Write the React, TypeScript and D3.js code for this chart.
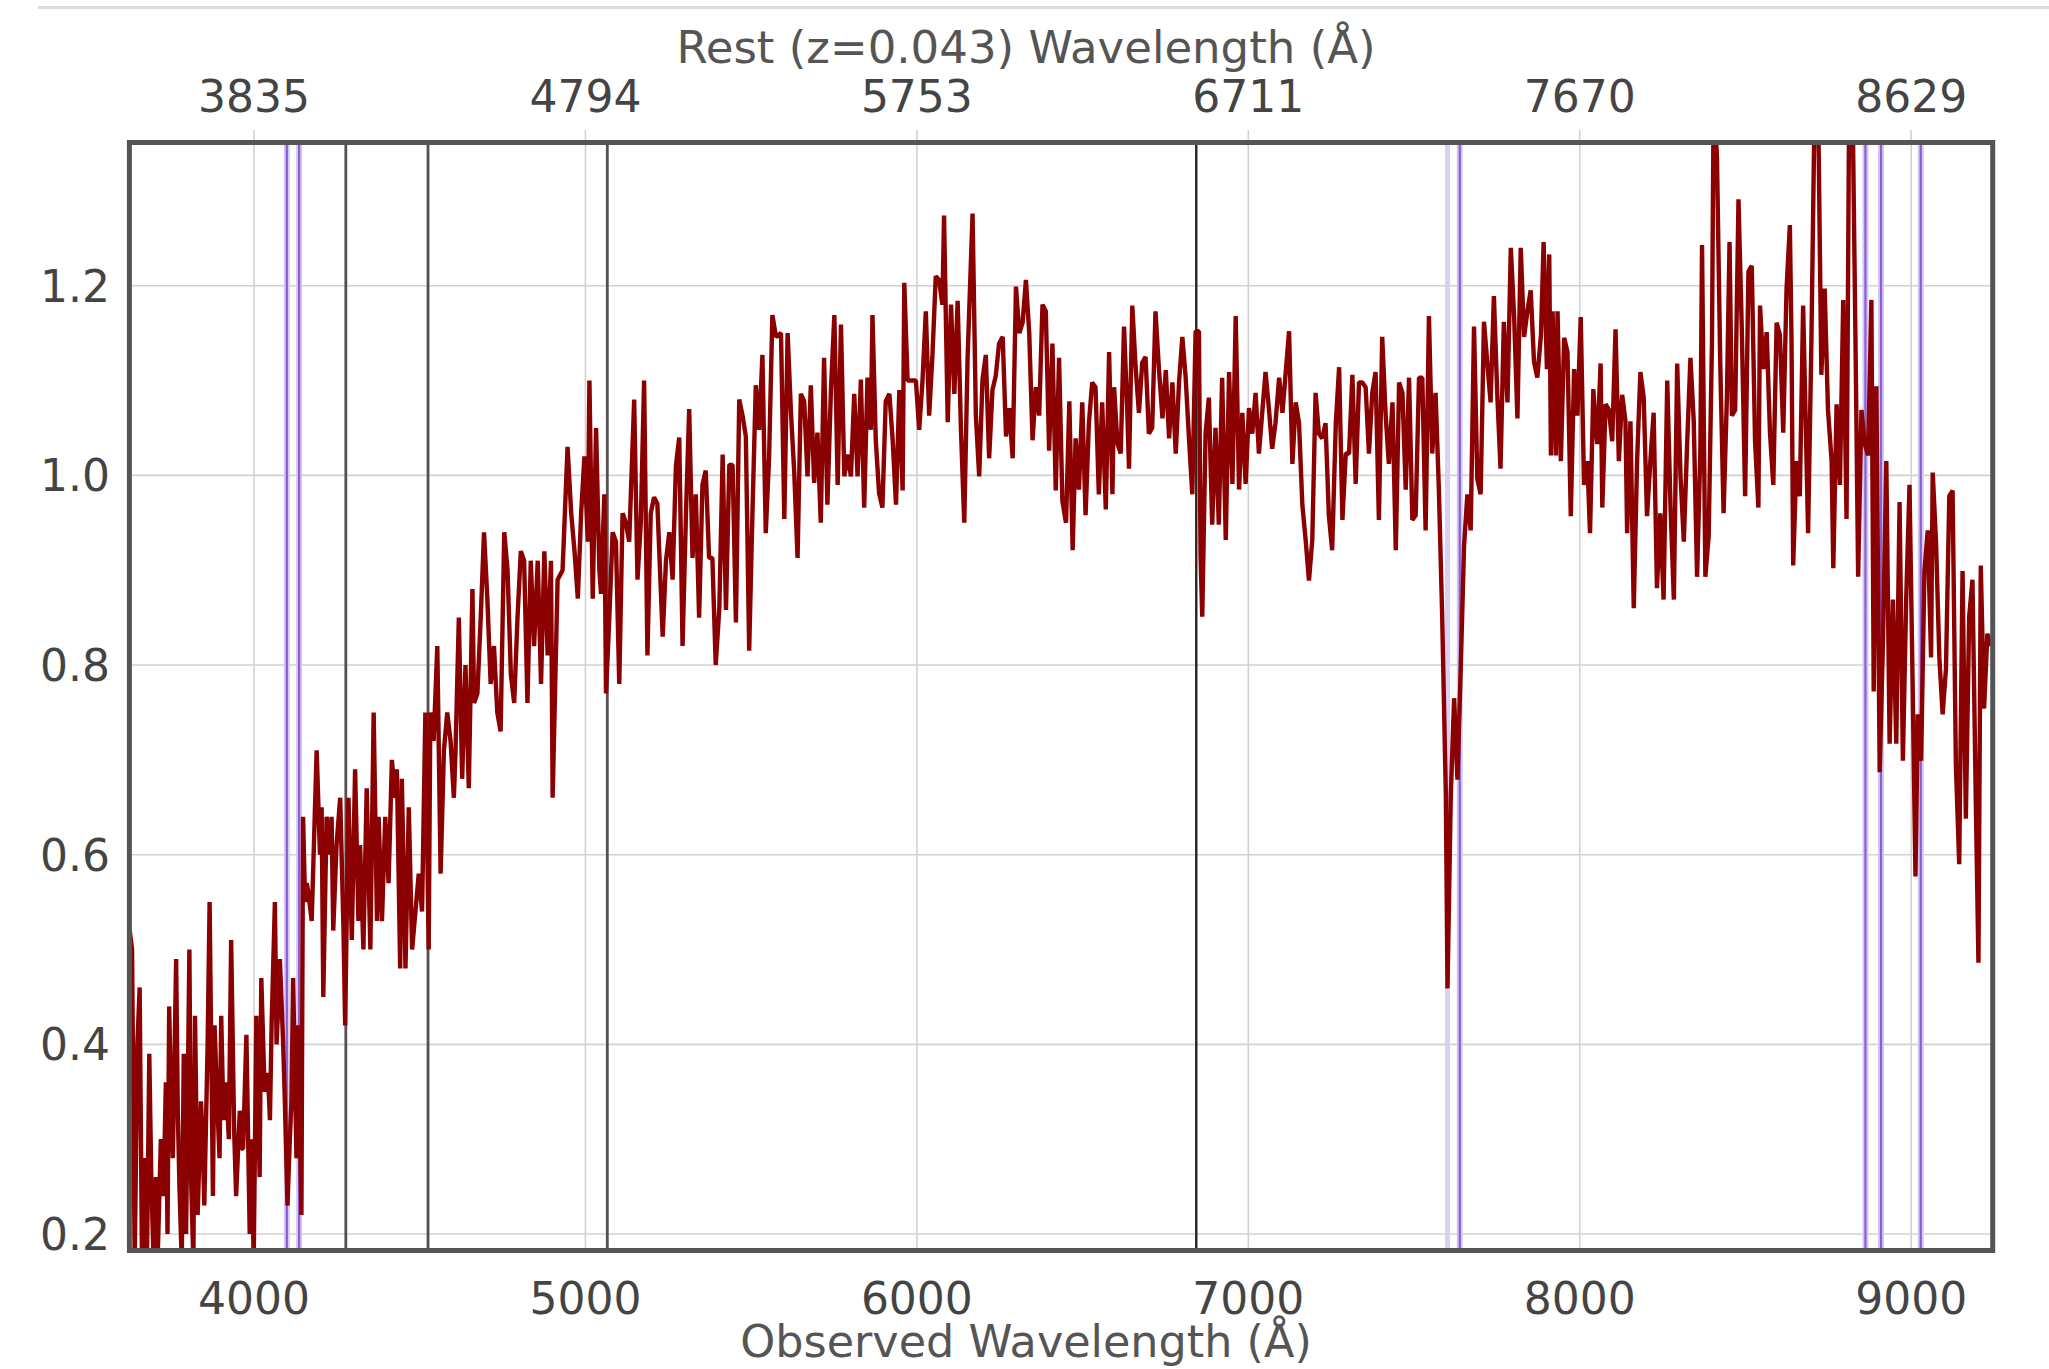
import React from "react";
import * as d3 from "d3";

const W = 2049;
const H = 1369;

// Observed-frame spectrum samples: [wavelength (Å), normalized flux]
const fluxUV: [number, number][] = [
  [3625, 0.52], [3632, 0.5], [3640, 0.17], [3648, 0.4], [3655, 0.46], [3662, 0.17], [3669, 0.28],
  [3677, 0.17], [3684, 0.39], [3690, 0.26], [3697, 0.17], [3704, 0.26], [3709, 0.17], [3719, 0.3],
  [3727, 0.24], [3734, 0.36], [3739, 0.2], [3744, 0.44], [3750, 0.33], [3755, 0.28], [3765, 0.49],
  [3770, 0.33], [3775, 0.25], [3782, 0.17], [3788, 0.39], [3795, 0.2], [3805, 0.5], [3810, 0.26],
  [3817, 0.17], [3822, 0.43], [3830, 0.22], [3840, 0.34], [3845, 0.3], [3850, 0.23], [3860, 0.4],
  [3866, 0.55], [3876, 0.24], [3881, 0.42], [3890, 0.33], [3896, 0.28], [3901, 0.43], [3908, 0.32],
  [3916, 0.36], [3924, 0.3], [3931, 0.51], [3940, 0.31], [3946, 0.24], [3957, 0.33], [3962, 0.29],
  [3967, 0.29], [3977, 0.41], [3987, 0.2], [3993, 0.3], [3999, 0.17], [4007, 0.43], [4017, 0.26],
  [4022, 0.47], [4032, 0.35], [4042, 0.37], [4048, 0.32], [4053, 0.42], [4063, 0.55], [4068, 0.4],
  [4073, 0.44], [4078, 0.49], [4088, 0.4], [4093, 0.34], [4101, 0.23], [4108, 0.3], [4113, 0.34],
  [4118, 0.47], [4128, 0.28], [4133, 0.42], [4143, 0.22],
];

const fluxBalmer: [number, number][] = [
  [4148, 0.64], [4154, 0.55], [4159, 0.57], [4164, 0.56], [4174, 0.53], [4189, 0.71], [4199, 0.6],
  [4204, 0.65], [4209, 0.45], [4219, 0.64], [4229, 0.6], [4234, 0.64], [4239, 0.52], [4249, 0.61],
  [4260, 0.66], [4270, 0.52], [4275, 0.42], [4285, 0.66], [4295, 0.51], [4305, 0.69], [4315, 0.53],
  [4320, 0.61], [4330, 0.5], [4340, 0.67], [4351, 0.5], [4361, 0.75], [4371, 0.53], [4376, 0.64],
  [4386, 0.53], [4396, 0.64], [4406, 0.57], [4416, 0.7], [4426, 0.66], [4431, 0.69], [4441, 0.48],
  [4446, 0.68], [4457, 0.48], [4467, 0.65], [4477, 0.5], [4487, 0.54], [4497, 0.58], [4507, 0.54],
  [4517, 0.75], [4527, 0.5], [4532, 0.75], [4542, 0.72], [4553, 0.82], [4563, 0.58], [4573, 0.71],
  [4583, 0.75], [4593, 0.72], [4603, 0.66], [4608, 0.71], [4618, 0.85], [4628, 0.68], [4638, 0.8],
  [4648, 0.67], [4659, 0.88], [4664, 0.76], [4674, 0.77], [4684, 0.85], [4694, 0.94], [4704, 0.87],
  [4714, 0.78], [4724, 0.82], [4734, 0.75], [4744, 0.73], [4755, 0.94], [4765, 0.9], [4775, 0.79],
  [4785, 0.76], [4795, 0.85], [4805, 0.92], [4815, 0.91], [4825, 0.76], [4835, 0.91], [4845, 0.82],
  [4856, 0.91], [4866, 0.78], [4876, 0.92], [4886, 0.81], [4896, 0.91], [4901, 0.66], [4916, 0.89],
  [4931, 0.9], [4946, 1.03], [4957, 0.96], [4967, 0.92], [4977, 0.87], [4987, 0.96], [4997, 1.02],
  [5007, 0.93], [5012, 1.1], [5022, 0.87], [5032, 1.05], [5042, 0.9],
];

const fluxGreen: [number, number][] = [
  [5047, 0.875], [5057, 0.98], [5062, 0.77], [5072, 0.85], [5082, 0.94], [5092, 0.93], [5102, 0.78],
  [5112, 0.96], [5122, 0.95], [5132, 0.93], [5147, 1.08], [5157, 0.89], [5167, 0.95], [5177, 1.1],
  [5187, 0.81], [5197, 0.96], [5207, 0.977], [5217, 0.97], [5233, 0.83], [5243, 0.91], [5253, 0.94],
  [5263, 0.89], [5273, 1.01], [5283, 1.04], [5293, 0.82], [5303, 0.956], [5313, 1.07], [5323, 0.913],
  [5333, 0.98], [5343, 0.85], [5353, 0.99], [5363, 1.005], [5373, 0.913], [5383, 0.913], [5393, 0.8],
  [5404, 0.86], [5414, 1.022], [5424, 0.858], [5434, 1.011], [5444, 1.011], [5454, 0.845], [5464, 1.08],
  [5474, 1.063], [5484, 1.041], [5494, 0.815], [5504, 0.962], [5514, 1.095], [5524, 1.048], [5534, 1.127],
  [5544, 0.939], [5554, 1.018], [5564, 1.169], [5575, 1.146], [5590, 1.15], [5600, 0.954], [5610, 1.15],
  [5620, 1.067], [5630, 1.003], [5640, 0.913], [5650, 1.086], [5660, 1.078], [5670, 0.999], [5680, 1.095],
  [5690, 0.992], [5700, 1.045], [5710, 0.95], [5720, 1.124], [5730, 0.969], [5741, 1.093], [5751, 1.169],
  [5761, 0.99], [5771, 1.159], [5781, 0.999], [5791, 1.022], [5801, 0.999], [5811, 1.086], [5821, 0.999],
  [5831, 1.101], [5841, 0.966], [5851, 1.103], [5861, 1.048], [5866, 1.169], [5876, 1.037], [5886, 0.981],
  [5896, 0.966], [5906, 1.078], [5917, 1.086], [5927, 1.037], [5937, 0.969], [5947, 1.09], [5957, 0.984],
  [5962, 1.203], [5972, 1.1], [5982, 1.1], [5997, 1.1], [6007, 1.048], [6017, 1.1], [6027, 1.173],
  [6037, 1.063], [6047, 1.127], [6057, 1.21], [6067, 1.206], [6077, 1.18], [6082, 1.274], [6093, 1.056],
  [6103, 1.18], [6113, 1.086], [6123, 1.184], [6133, 1.048], [6143, 0.95], [6153, 1.124], [6168, 1.276],
  [6178, 1.063], [6188, 0.999], [6198, 1.101], [6208, 1.127], [6218, 1.018], [6228, 1.09], [6238, 1.105],
  [6248, 1.139], [6259, 1.146], [6269, 1.041], [6279, 1.071], [6289, 1.018], [6299, 1.199], [6309, 1.15],
  [6319, 1.161], [6329, 1.206], [6339, 1.15], [6349, 1.037], [6359, 1.093], [6369, 1.063], [6379, 1.18],
  [6389, 1.173], [6399, 1.026], [6409, 1.139], [6419, 0.984], [6429, 1.124], [6439, 0.973], [6450, 0.95],
  [6460, 1.078],
];

const fluxRed: [number, number][] = [
  [6470, 0.921], [6479, 1.039], [6489, 0.985], [6499, 1.077], [6509, 0.958], [6519, 1.055], [6529, 1.098],
  [6539, 1.093], [6549, 0.98], [6559, 1.077], [6570, 0.964], [6580, 1.13], [6590, 0.98], [6595, 1.093],
  [6605, 1.034], [6615, 1.023], [6625, 1.157], [6635, 1.066], [6640, 1.007], [6650, 1.179], [6660, 1.114],
  [6670, 1.066], [6680, 1.119], [6690, 1.125], [6700, 1.044], [6710, 1.05], [6720, 1.173], [6730, 1.114],
  [6741, 1.06], [6751, 1.111], [6761, 1.039], [6771, 1.098], [6781, 1.023], [6791, 1.098], [6801, 1.146],
  [6811, 1.103], [6821, 1.039], [6831, 0.98], [6841, 1.152], [6851, 1.152], [6856, 0.915], [6861, 0.851],
  [6871, 1.044], [6881, 1.082], [6891, 0.948], [6901, 1.05], [6911, 0.948], [6921, 1.103], [6932, 0.932],
  [6942, 1.109], [6952, 0.991], [6962, 1.168], [6972, 0.985], [6982, 1.066], [6992, 0.991], [7002, 1.071],
  [7012, 1.044], [7022, 1.087], [7032, 1.023], [7042, 1.066], [7052, 1.109], [7062, 1.071], [7072, 1.028],
  [7082, 1.055], [7093, 1.103], [7103, 1.066], [7113, 1.109], [7123, 1.152], [7133, 1.012], [7143, 1.077],
  [7153, 1.055], [7163, 0.969], [7173, 0.932], [7183, 0.889], [7193, 0.932], [7203, 1.087], [7213, 1.044],
  [7223, 1.039], [7233, 1.055], [7243, 0.958], [7253, 0.921], [7264, 1.055], [7274, 1.114], [7284, 0.953],
  [7294, 1.023], [7304, 1.023], [7314, 1.106], [7324, 0.991], [7334, 1.098], [7344, 1.098], [7354, 1.093],
  [7364, 1.023], [7374, 1.087], [7384, 1.109], [7394, 0.953], [7404, 1.146], [7414, 1.066], [7424, 1.012],
  [7435, 1.077], [7445, 0.921], [7455, 1.098], [7465, 1.087], [7475, 0.985], [7485, 1.103], [7495, 0.953],
  [7505, 0.958], [7515, 1.103], [7525, 1.103], [7535, 0.942], [7545, 1.168], [7555, 1.023], [7565, 1.087],
  [7575, 0.985], [7585, 0.851], [7596, 0.663], [7601, 0.459], [7611, 0.663], [7621, 0.765], [7631, 0.679],
  [7641, 0.797], [7651, 0.926], [7661, 0.98], [7671, 0.942], [7681, 1.157], [7691, 0.996], [7701, 0.98],
  [7711, 1.162], [7721, 1.119], [7731, 1.077], [7741, 1.189], [7751, 1.087], [7761, 1.007], [7771, 1.162],
  [7782, 1.077], [7792, 1.24], [7802, 1.168], [7812, 1.06], [7822, 1.24], [7832, 1.146], [7842, 1.173],
  [7852, 1.195], [7862, 1.12], [7872, 1.103],
];

const fluxNIR: [number, number][] = [
  [7883, 1.148], [7891, 1.246], [7901, 1.112], [7908, 1.233], [7913, 1.021], [7918, 1.173], [7928, 1.021],
  [7933, 1.173], [7943, 1.015], [7953, 1.145], [7963, 1.13], [7973, 0.957], [7983, 1.112], [7993, 1.063],
  [8003, 1.167], [8013, 0.99], [8023, 1.015], [8031, 0.939], [8041, 1.091], [8048, 1.051], [8053, 1.033],
  [8063, 1.118], [8068, 0.966], [8078, 1.075], [8088, 1.069], [8098, 1.036], [8108, 1.154], [8118, 1.015],
  [8128, 1.085], [8138, 1.057], [8143, 0.939], [8153, 1.057], [8163, 0.86], [8173, 1.015], [8183, 1.109],
  [8193, 1.082], [8203, 0.957], [8213, 1.015], [8223, 1.066], [8233, 0.881], [8243, 0.96], [8253, 0.869],
  [8264, 1.1], [8274, 0.966], [8284, 0.869], [8294, 1.118], [8304, 1.0], [8314, 0.93], [8324, 1.033],
  [8334, 1.124], [8344, 1.057], [8354, 0.893], [8364, 1.027], [8369, 1.243], [8379, 0.893], [8389, 0.936],
  [8399, 1.142], [8404, 1.4], [8414, 1.337], [8424, 1.118], [8434, 0.96], [8444, 1.082], [8452, 1.246],
  [8459, 1.063], [8469, 1.069], [8479, 1.291], [8489, 1.154], [8499, 0.978], [8509, 1.215], [8519, 1.221],
  [8529, 1.036], [8539, 0.966], [8544, 1.179], [8554, 1.112], [8564, 1.151], [8574, 1.045], [8584, 0.99],
  [8594, 1.161], [8604, 1.148], [8614, 1.045], [8624, 1.197], [8634, 1.264], [8639, 1.142], [8644, 0.905],
  [8654, 1.015], [8664, 0.978], [8674, 1.179], [8684, 1.021], [8689, 0.939], [8699, 1.142], [8709, 1.4],
  [8719, 1.4], [8729, 1.106], [8739, 1.197], [8749, 1.069], [8760, 1.015], [8765, 0.902], [8775, 1.075],
  [8785, 0.99], [8795, 1.185], [8805, 0.954], [8813, 1.4], [8823, 1.4], [8833, 1.112], [8840, 0.893],
  [8850, 1.069], [8860, 1.033], [8870, 1.021], [8880, 1.185], [8887, 0.772], [8895, 1.094], [8905, 0.687],
  [8915, 0.826], [8925, 1.015], [8935, 0.717], [8945, 0.869], [8955, 0.717], [8965, 0.972], [8975, 0.699],
  [8985, 0.869], [8995, 0.99], [9005, 0.766], [9013, 0.577], [9020, 0.748], [9030, 0.699], [9040, 0.899],
  [9050, 0.942], [9060, 0.808], [9065, 1.003], [9075, 0.93], [9085, 0.808], [9095, 0.748], [9105, 0.796],
  [9115, 0.978], [9125, 0.984], [9135, 0.693], [9145, 0.59], [9155, 0.899], [9165, 0.638], [9175, 0.851],
  [9185, 0.89], [9195, 0.656], [9203, 0.486], [9210, 0.905], [9220, 0.754], [9230, 0.833], [9240, 0.82],
];

// Axis ticks and line markers (observed wavelengths, Å)
const redshift = 0.043;
const observedTicks = [4000, 5000, 6000, 7000, 8000, 9000];
const fluxTicks = [0.2, 0.4, 0.6, 0.8, 1.0, 1.2];
const emissionLines = [4277, 4525, 5066];
const halphaLine = 6843;
const absorptionLines = [4099, 4136, 7638, 8862, 8909, 9029];
const faintAbsorptionLines = [7601];

const wavelengthDomain: [number, number] = [3624, 9246];
const fluxDomain: [number, number] = [0.1826, 1.351];

const FONT = "'DejaVu Sans', Verdana, sans-serif";

export default function App() {
  const left = 129.4;
  const right = 1992.7;
  const top = 142.5;
  const bottom = 1250.5;

  const x = d3.scaleLinear().domain(wavelengthDomain).range([left, right]);
  const y = d3.scaleLinear().domain(fluxDomain).range([bottom, top]);

  const spectrum = [...fluxUV, ...fluxBalmer, ...fluxGreen, ...fluxRed, ...fluxNIR];
  const path = d3
    .line<[number, number]>()
    .x((d) => x(d[0]))
    .y((d) => y(d[1]))(spectrum) as string;

  const fmt = d3.format(".1f");
  const gridColor = "#d2d2d2";
  const cx = 1026;

  return (
    <div style={{ position: "absolute", left: 0, top: 0 }}>
      <svg width={W} height={H} style={{ display: "block", background: "#fff" }} fontFamily={FONT}>
        <defs>
          <clipPath id="plot-clip">
            <rect x={left} y={top} width={right - left} height={bottom - top} />
          </clipPath>
        </defs>

        <line x1={38} x2={W} y1={7.5} y2={7.5} stroke="#dcdcdc" strokeWidth={3} />

        {/* grid */}
        {fluxTicks.map((v) => (
          <line key={"h" + v} x1={left} x2={right} y1={y(v)} y2={y(v)} stroke={gridColor} strokeWidth={1.6} />
        ))}
        {observedTicks.map((t) => (
          <line key={"v" + t} x1={x(t)} x2={x(t)} y1={130} y2={bottom} stroke={gridColor} strokeWidth={1.6} />
        ))}

        <g clipPath="url(#plot-clip)">
          {/* line markers */}
          {faintAbsorptionLines.map((w) => (
            <line key={"fa" + w} x1={x(w)} x2={x(w)} y1={top} y2={bottom} stroke="#dccff5" strokeWidth={5} />
          ))}
          {absorptionLines.map((w) => (
            <g key={"a" + w}>
              <line x1={x(w)} x2={x(w)} y1={top} y2={bottom} stroke="#d6c8f2" strokeWidth={6} />
              <line x1={x(w)} x2={x(w)} y1={top} y2={bottom} stroke="#8a5fd6" strokeWidth={2.2} />
            </g>
          ))}
          {emissionLines.map((w) => (
            <line key={"e" + w} x1={x(w)} x2={x(w)} y1={top} y2={bottom} stroke="#585050" strokeWidth={2.8} />
          ))}
          <line x1={x(halphaLine)} x2={x(halphaLine)} y1={top} y2={bottom} stroke="#2a2222" strokeWidth={2.4} />

          {/* spectrum */}
          <path d={path} fill="none" stroke="#8b0000" strokeWidth={4.4} strokeLinejoin="bevel" />
        </g>

        <rect x={left} y={top} width={right - left} height={bottom - top} fill="none" stroke="#555" strokeWidth={5} />

        {/* labels */}
        <text x={cx} y={63} textAnchor="middle" fontSize={45} fill="#555">
          Rest (z={redshift}) Wavelength (Å)
        </text>
        {observedTicks.map((t) => (
          <text key={"rt" + t} x={x(t)} y={112} textAnchor="middle" fontSize={44} fill="#444">
            {Math.round(t / (1 + redshift))}
          </text>
        ))}
        {observedTicks.map((t) => (
          <text key={"ot" + t} x={x(t)} y={1314} textAnchor="middle" fontSize={44} fill="#444">
            {t}
          </text>
        ))}
        {fluxTicks.map((v) => (
          <text key={"ft" + v} x={110} y={y(v) + 16} textAnchor="end" fontSize={44} fill="#444">
            {fmt(v)}
          </text>
        ))}
        <text x={cx} y={1357} textAnchor="middle" fontSize={44.5} fill="#555">
          Observed Wavelength (Å)
        </text>
      </svg>
    </div>
  );
}
